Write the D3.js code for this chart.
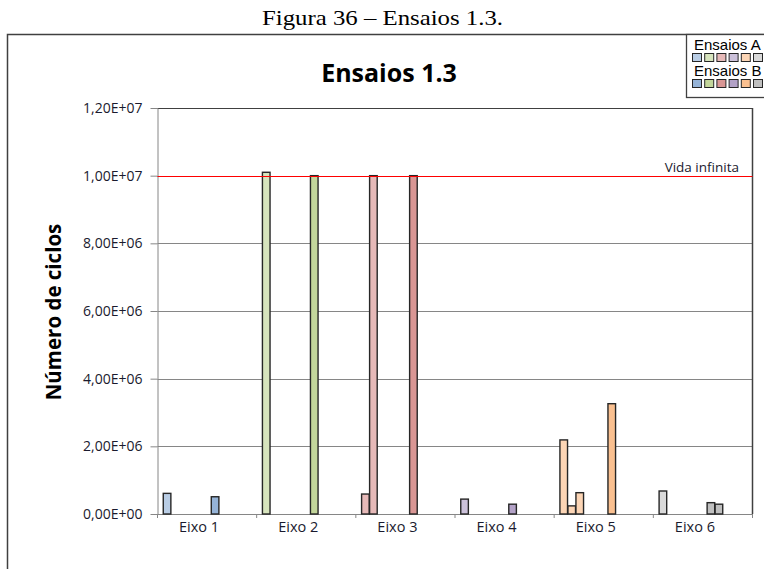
<!DOCTYPE html>
<html>
<head>
<meta charset="utf-8">
<script src="https://cdn.jsdelivr.net/npm/d3@7"></script>
<style>
html,body{margin:0;padding:0;background:#fff;overflow:hidden;}
svg{display:block;}
</style>
</head>
<body>
<svg id="chart" width="764" height="569"></svg>
<script>
// ---- data ----
const categories = ["Eixo 1", "Eixo 2", "Eixo 3", "Eixo 4", "Eixo 5", "Eixo 6"];
// Ensaios A (light bars) – values per category, in slot order
const ensaiosA = [
  [6.1e5],
  [1.01e7],
  [5.9e5, 1.0e7],
  [4.4e5],
  [2.19e6, 2.4e5, 6.3e5],
  [6.8e5]
];
// Ensaios B (darker bars)
const ensaiosB = [
  [5.1e5],
  [1.0e7],
  [1.0e7],
  [2.9e5],
  [3.26e6],
  [3.35e5, 2.9e5]
];
const colorsA = ["#b9cde5", "#d7e4bd", "#e6b9b8", "#ccc1da", "#fcd5b5", "#d9d9d9"];
const colorsB = ["#95b3d7", "#c3d69b", "#d99694", "#b3a2c7", "#fac090", "#bfbfbf"];
const yTicks = [0, 2e6, 4e6, 6e6, 8e6, 1e7, 1.2e7];
const limitValue = 1e7;
const limitLabel = "Vida infinita";
const legendLabels = ["Ensaios A", "Ensaios B"];
const chartTitle = "Ensaios 1.3";
const yTitle = "Número de ciclos";
const caption = "Figura 36 – Ensaios 1.3.";
const slotsB0 = 6;   // first slot index of Ensaios B inside each group
const nSlots = 11;

// ---- layout ----
const svg = d3.select("#chart");
const plot = {left: 157.5, right: 752.5, top: 108, bottom: 514};
const sans = "Open Sans, Liberation Sans, sans-serif";

const x0 = d3.scaleBand().domain(categories).range([plot.left, plot.right]).padding(0);
const x1 = d3.scaleBand().domain(d3.range(nSlots)).range([0, x0.bandwidth()])
  .paddingInner(0.05).paddingOuter(0.72);
const y = d3.scaleLinear().domain([0, 1.2e7]).range([plot.bottom, plot.top]);

const fmt = v => {
  if (v === 0) return "0,00E+00";
  const e = Math.floor(Math.log10(v));
  const m = (v / Math.pow(10, e)).toFixed(2).replace(".", ",");
  return m + "E+" + String(e).padStart(2, "0");
};

// caption
svg.append("text").attr("x", 262).attr("y", 25)
  .attr("font-family", "Liberation Serif, Times New Roman, serif").attr("font-size", 22)
  .attr("textLength", 241).attr("lengthAdjust", "spacingAndGlyphs")
  .attr("fill", "#000").text(caption);

// outer chart frame
svg.append("rect").attr("x", 7.5).attr("y", 34.5).attr("width", 800).attr("height", 600)
  .attr("fill", "#fff").attr("stroke", "#404040").attr("stroke-width", 1.5);

// title
svg.append("text").attr("x", 389).attr("y", 82).attr("text-anchor", "middle")
  .attr("font-family", sans).attr("font-weight", "bold")
  .attr("font-size", 25).attr("fill", "#000").text(chartTitle);

// y title
svg.append("text").attr("transform", "translate(61,312) rotate(-90)").attr("text-anchor", "middle")
  .attr("font-family", sans).attr("font-weight", "bold")
  .attr("font-size", 20.5).attr("fill", "#000").text(yTitle);

// gridlines
svg.append("g").selectAll("line").data(yTicks.filter(d => d > 0)).join("line")
  .attr("x1", plot.left).attr("x2", plot.right)
  .attr("y1", d => Math.round(y(d)) + 0.5).attr("y2", d => Math.round(y(d)) + 0.5)
  .attr("stroke", "#868686").attr("stroke-width", 1);

// plot border
svg.append("line").attr("x1", plot.right).attr("x2", plot.right)
  .attr("y1", plot.top).attr("y2", plot.bottom).attr("stroke", "#404040").attr("stroke-width", 1.5);
svg.append("line").attr("x1", plot.left).attr("x2", plot.right)
  .attr("y1", plot.top + 0.5).attr("y2", plot.top + 0.5).attr("stroke", "#404040").attr("stroke-width", 1);

// y axis
const yAxis = d3.axisLeft(y).tickValues(yTicks).tickFormat(fmt).tickSize(7).tickSizeOuter(0);
const gy = svg.append("g").attr("transform", `translate(${plot.left},0)`).call(yAxis);
gy.select(".domain").attr("stroke", "#868686");
gy.selectAll(".tick line").attr("stroke", "#868686");
gy.selectAll(".tick text").attr("font-family", sans)
  .attr("font-size", 14).attr("fill", "#1a1a2e").attr("x", -15);

// x axis
const xAxis = d3.axisBottom(x0).tickSize(0).tickSizeOuter(0);
const gx = svg.append("g").attr("transform", `translate(0,${plot.bottom})`).call(xAxis);
gx.select(".domain").attr("stroke", "#868686");
gx.selectAll(".tick text").attr("font-family", sans)
  .attr("font-size", 14.5).attr("fill", "#1a1a2e").attr("dy", "1.0em").attr("x", -8);
// category separator ticks
gx.append("g").selectAll("line").data(categories.concat([null])).join("line")
  .attr("x1", (d, i) => plot.left + i * x0.step()).attr("x2", (d, i) => plot.left + i * x0.step())
  .attr("y1", 0).attr("y2", 4).attr("stroke", "#868686");

// bars
const barData = [];
categories.forEach((c, ci) => {
  ensaiosA[ci].forEach((v, k) => barData.push({cat: c, slot: k, value: v, color: colorsA[ci]}));
  ensaiosB[ci].forEach((v, k) => barData.push({cat: c, slot: slotsB0 + k, value: v, color: colorsB[ci]}));
});
svg.append("g").selectAll("rect").data(barData).join("rect")
  .attr("x", d => x0(d.cat) + x1(d.slot))
  .attr("width", x1.bandwidth())
  .attr("y", d => y(d.value))
  .attr("height", d => plot.bottom - y(d.value))
  .attr("fill", d => d.color)
  .attr("stroke", "#262626").attr("stroke-width", 1.4);

// limit line
const yl = Math.round(y(limitValue)) + 0.5;
svg.append("line").attr("x1", plot.left).attr("x2", plot.right)
  .attr("y1", yl).attr("y2", yl)
  .attr("stroke", "#ff0000").attr("stroke-width", 1.2);
svg.append("text").attr("x", 739).attr("y", yl - 4.5).attr("text-anchor", "end")
  .attr("font-family", sans).attr("font-size", 13.5)
  .attr("fill", "#1a1a2e").text(limitLabel);

// legend
const lg = svg.append("g");
lg.append("rect").attr("x", 686.5).attr("y", 34.5).attr("width", 100).attr("height", 63)
  .attr("fill", "#fff").attr("stroke", "#404040").attr("stroke-width", 1.3);
[colorsA, colorsB].forEach((cols, r) => {
  lg.append("text").attr("x", 694).attr("y", 50 + r * 26)
    .attr("font-family", "Liberation Sans, Arial, sans-serif").attr("font-size", 15)
    .attr("fill", "#000").text(legendLabels[r]);
  lg.append("g").selectAll("rect").data(cols).join("rect")
    .attr("x", (d, i) => 692.5 + i * 12.2).attr("y", 53.5 + r * 26)
    .attr("width", 9).attr("height", 8)
    .attr("fill", d => d).attr("stroke", "#262626").attr("stroke-width", 1);
});
</script>
</body>
</html>
